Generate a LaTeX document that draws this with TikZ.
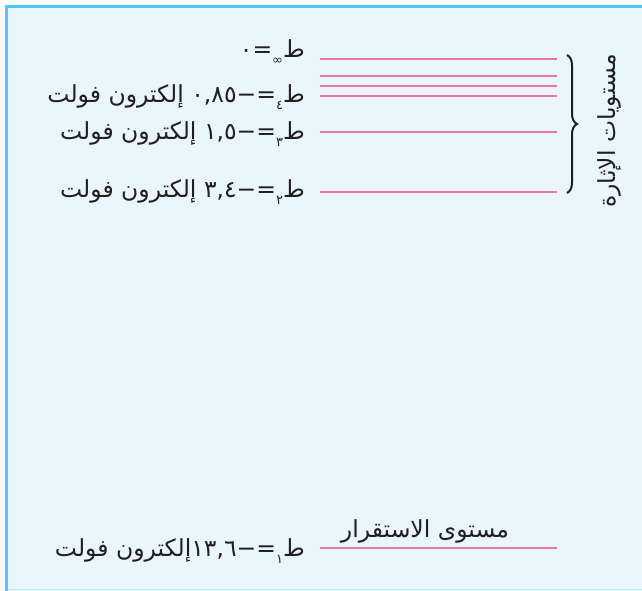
\documentclass[tikz,border=0pt]{standalone}
\usepackage{fontspec}
\usetikzlibrary{decorations.pathreplacing}
\TeXXeTstate=1
\newfontfamily\arabicfont[Script=Arabic]{DejaVu Sans}
\definecolor{bgblue}{HTML}{E9F6FD}
\definecolor{frameblue}{HTML}{4CC9F4}
\definecolor{lowframe}{HTML}{BDE6F6}
\definecolor{levelpink}{HTML}{EE72A3}
\definecolor{inkc}{HTML}{231F20}
\newcommand{\ArSub}[1]{\raisebox{-0.6ex}{\fontsize{13}{13}\selectfont #1}}
\tikzset{
  level/.style={draw=levelpink, line width=1.8pt},
  lbl/.style={anchor=base east, inner sep=0pt, text=inkc, font=\arabicfont\fontsize{23.5}{26}\selectfont},
  sidelbl/.style={inner sep=0pt, text=inkc, font=\arabicfont\fontsize{23.5}{26}\selectfont},
  bracec/.style={draw=inkc, line width=2pt, decorate, decoration={brace, amplitude=10pt}}
}
\begin{document}
\begin{tikzpicture}[x=1pt,y=-1pt]
\useasboundingbox (0,0) rectangle (642,590);
\fill[bgblue] (5,5) rectangle (650,600);
\draw[lowframe, line width=1pt] (5,589.5) -- (650,589.5);
\draw[frameblue, line width=3pt] (6.5,600) -- (6.5,6.5) -- (650,6.5);
% level lines
\coordinate (iL) at (320,59);  \coordinate (iR) at (557,59);
\coordinate (fL) at (320,76);  \coordinate (fR) at (557,76);
\coordinate (gL) at (320,86);  \coordinate (gR) at (557,86);
\coordinate (hL) at (320,96);  \coordinate (hR) at (557,96);
\coordinate (tL) at (320,132); \coordinate (tR) at (557,132);
\coordinate (sL) at (320,192); \coordinate (sR) at (557,192);
\coordinate (oL) at (320,548); \coordinate (oR) at (557,548);
\draw[level] (iL) -- (iR);
\draw[level] (fL) -- (fR);
\draw[level] (gL) -- (gR);
\draw[level] (hL) -- (hR);
\draw[level] (tL) -- (tR);
\draw[level] (sL) -- (sR);
\draw[level] (oL) -- (oR);
% labels
\node[lbl] (linf) at (305,57) {\beginR ط\ArSub{∞}=\beginL ٠\endL\endR};
\node[lbl] (l4) at (305,102) {\beginR ط\ArSub{٤}=−\beginL ٠,٨٥\endL{} إلكترون فولت\endR};
\node[lbl] (l3) at (305,139) {\beginR ط\ArSub{٣}=−\beginL ١,٥\endL{} إلكترون فولت\endR};
\node[lbl] (l2) at (305,197) {\beginR ط\ArSub{٢}=−\beginL ٣,٤\endL{} إلكترون فولت\endR};
\node[lbl] (l1) at (305,556) {\beginR ط\ArSub{١}=−\beginL ١٣,٦\endL{}إلكترون فولت\endR};
\node[sidelbl, anchor=base] (ground) at (425,537) {\beginR مستوى الاستقرار\endR};
% brace
\coordinate (bt) at (567,55);
\coordinate (bb) at (567,193);
\draw[bracec] (bt) -- (bb);
\node[sidelbl, rotate=90, anchor=base] (excite) at (615,131) {\beginR مستويات الإثارة\endR};
\end{tikzpicture}
\end{document}
